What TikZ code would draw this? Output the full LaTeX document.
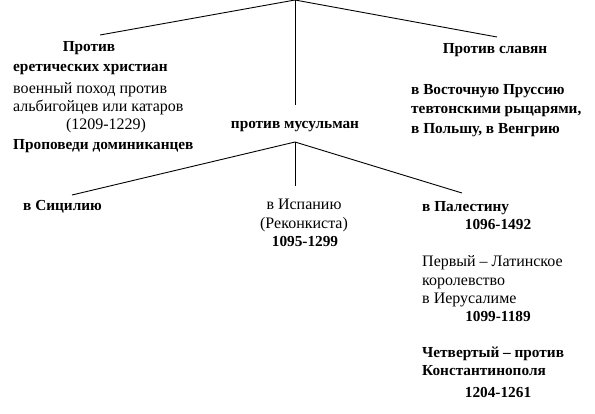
\documentclass[tikz,border=0pt]{standalone}
\usepackage{fontspec}
\setmainfont{Liberation Serif}[BoldFont={Liberation Serif Bold}]
\begin{document}
\begin{tikzpicture}[x=1pt,y=-1pt,
  txt/.style={inner sep=0pt,font=\fontsize{16}{18}\selectfont},
  btxt/.style={inner sep=0pt,font=\fontsize{15.3}{18}\selectfont\bfseries},
  conn/.style={line width=0.9pt}]
\useasboundingbox (0,0) rectangle (595,413);
% top level
\coordinate (top) at (295,0);
\coordinate (lend) at (100,35);
\coordinate (rend) at (497,37);
\node[btxt,anchor=base] (p1) at (89,51) {Против};
\node[btxt,anchor=base west] (p2) at (13,71) {еретических христиан};
\node[txt,anchor=base west] (p3) at (13,93) {военный поход против};
\node[txt,anchor=base west] (p4) at (13,111) {альбигойцев или катаров};
\node[txt,anchor=base] (p5) at (106,129) {(1209-1229)};
\node[btxt,anchor=base west] (p6) at (13,149) {Проповеди доминиканцев};
\node[btxt,anchor=base] (mus) at (295,128) {против мусульман};
\node[btxt,anchor=base] (s1) at (495,53) {Против славян};
\node[btxt,anchor=base west] (s2) at (411,94) {в Восточную Пруссию};
\node[btxt,anchor=base west] (s3) at (411,113) {тевтонскими рыцарями,};
\node[btxt,anchor=base west] (s4) at (411,133) {в Польшу, в Венгрию};
\coordinate (musTop) at (295,105);
\draw[conn] (lend) -- (top) -- (rend);
\draw[conn] (top) -- (musTop);
% second level
\coordinate (mid) at (295,142);
\coordinate (lend2) at (72,195);
\coordinate (cend2) at (295,186);
\coordinate (rend2) at (462,193);
\draw[conn] (lend2) -- (mid) -- (rend2);
\draw[conn] (mid) -- (cend2);
\node[btxt,anchor=base west] (sic) at (23,210) {в Сицилию};
\node[txt,anchor=base] (sp1) at (304,209) {в Испанию};
\node[txt,anchor=base] (sp2) at (304,228) {(Реконкиста)};
\node[btxt,anchor=base] (sp3) at (305,246) {1095-1299};
\node[btxt,anchor=base west] (pa1) at (422,211) {в Палестину};
\node[btxt,anchor=base] (pa2) at (498,229) {1096-1492};
\node[txt,anchor=base west] (pa3) at (422,266) {Первый – Латинское};
\node[txt,anchor=base west] (pa4) at (422,285) {королевство};
\node[txt,anchor=base west] (pa5) at (422,303) {в Иерусалиме};
\node[btxt,anchor=base] (pa6) at (498,321) {1099-1189};
\node[btxt,anchor=base west] (pa7) at (422,357) {Четвертый – против};
\node[btxt,anchor=base west] (pa8) at (422,375) {Константинополя};
\node[btxt,anchor=base] (pa9) at (498,397) {1204-1261};
\end{tikzpicture}
\end{document}
